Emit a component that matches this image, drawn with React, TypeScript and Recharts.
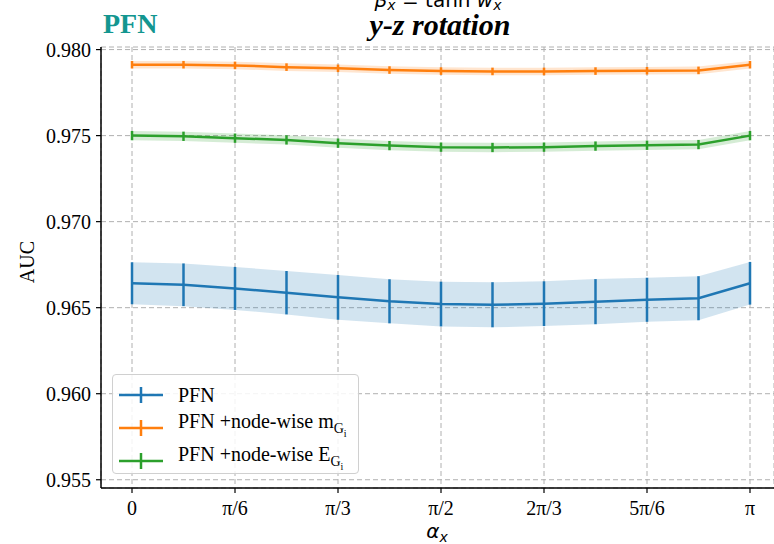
import React from 'react';
import {
  ComposedChart, Line, Area, XAxis, YAxis, CartesianGrid, ErrorBar, Legend,
} from 'recharts';

// alpha_x in units of pi/12
const alphaSteps = [0, 1, 2, 3, 4, 5, 6, 7, 8, 9, 10, 11, 12];
const xTickSteps = [0, 2, 4, 6, 8, 10, 12];
const xTickLabels = ['0', 'π/6', 'π/3', 'π/2', '2π/3', '5π/6', 'π'];
const yTicks = [0.955, 0.96, 0.965, 0.97, 0.975, 0.98];

const pfnMean = [0.96642, 0.96633, 0.96612, 0.96587, 0.9656, 0.96537, 0.96521, 0.96517, 0.96523, 0.96535, 0.96546, 0.96555, 0.96642];
const pfnErr = [0.00122, 0.00124, 0.00125, 0.00126, 0.0013, 0.00128, 0.0013, 0.00131, 0.0013, 0.00131, 0.00128, 0.00128, 0.00124];
const mMean = [0.97912, 0.97912, 0.97908, 0.97898, 0.97891, 0.97881, 0.97875, 0.97873, 0.97873, 0.97875, 0.97877, 0.97879, 0.97912];
const mErr = [0.00022, 0.00022, 0.00022, 0.00022, 0.00022, 0.00022, 0.00022, 0.00022, 0.00022, 0.00022, 0.00022, 0.00022, 0.00022];
const eMean = [0.975, 0.97496, 0.97485, 0.97475, 0.97456, 0.97442, 0.97433, 0.97431, 0.97433, 0.97439, 0.97444, 0.97448, 0.975];
const eErr = [0.00027, 0.00027, 0.00027, 0.00027, 0.00027, 0.00027, 0.00027, 0.00027, 0.00027, 0.00027, 0.00027, 0.00027, 0.00027];

const BLUE = '#1f77b4';
const ORANGE = '#ff7f0e';
const GREEN = '#2ca02c';
const SERIF = '"Liberation Serif", "Times New Roman", serif';
const MATH = '"DejaVu Sans", sans-serif';

const data = alphaSteps.map((a, i) => ({
  a,
  pfn: pfnMean[i],
  pfnErr: pfnErr[i],
  pfnBand: [pfnMean[i] - pfnErr[i], pfnMean[i] + pfnErr[i]],
  m: mMean[i],
  mErr: mErr[i],
  mBand: [mMean[i] - mErr[i], mMean[i] + mErr[i]],
  e: eMean[i],
  eErr: eErr[i],
  eBand: [eMean[i] - eErr[i], eMean[i] + eErr[i]],
}));

const legendItems = [
  { color: BLUE, label: <>PFN</> },
  { color: ORANGE, label: <>PFN +node-wise m<sub style={{ fontSize: 14 }}>G<sub style={{ fontSize: 10 }}>i</sub></sub></> },
  { color: GREEN, label: <>PFN +node-wise E<sub style={{ fontSize: 14 }}>G<sub style={{ fontSize: 10 }}>i</sub></sub></> },
];

const renderLegend = () => (
  <div style={{
    width: 247, height: 100, boxSizing: 'border-box', border: '1px solid #d0d0d0', borderRadius: 4,
    background: 'rgba(255,255,255,0.85)', padding: '3px 0 0 6px', fontFamily: SERIF, fontSize: 20, color: '#000',
  }}>
    {legendItems.map((it, i) => (
      <div key={i} style={{ display: 'flex', alignItems: 'center', height: 33, lineHeight: '20px' }}>
        <svg width={44} height={18} style={{ marginRight: 15, flexShrink: 0 }}>
          <line x1={0} y1={9} x2={44} y2={9} stroke={it.color} strokeWidth={2.5} />
          <line x1={22} y1={1} x2={22} y2={17} stroke={it.color} strokeWidth={2.5} />
        </svg>
        <span>{it.label}</span>
      </div>
    ))}
  </div>
);

const xTickFmt = (v: number) => {
  const idx = xTickSteps.indexOf(v);
  return idx >= 0 ? xTickLabels[idx] : '';
};

export default function App() {
  return (
    <div style={{ position: 'absolute', left: 0, top: 0, width: 774, height: 544, background: '#fff' }}>
      <ComposedChart width={774} height={544} data={data} margin={{ top: 47, right: 0, bottom: 0, left: 0 }}>
        <CartesianGrid stroke="#b0b0b0" strokeDasharray="5 3" strokeWidth={1} />
        <XAxis
          dataKey="a" type="number" domain={[-0.602, 12.466]} ticks={xTickSteps} allowDataOverflow
          tickFormatter={xTickFmt} height={56} interval={0}
          axisLine={{ stroke: '#000', strokeWidth: 1.5 }} tickLine={{ stroke: '#000', strokeWidth: 1.2 }} tickSize={5}
          tick={{ fontFamily: SERIF, fontSize: 20, fill: '#000', dy: 6 }}
        />
        <XAxis
          xAxisId="top" orientation="top" dataKey="a" type="number" domain={[-0.602, 12.466]} height={0}
          tick={false} tickLine={false} axisLine={{ stroke: '#000', strokeWidth: 1.5 }}
        />
        <YAxis
          type="number" domain={[0.95452, 0.98015]} ticks={yTicks} allowDataOverflow width={101} interval={0}
          tickFormatter={(v: number) => v.toFixed(3)}
          axisLine={{ stroke: '#000', strokeWidth: 1.5 }} tickLine={{ stroke: '#000', strokeWidth: 1.2 }} tickSize={5}
          tick={{ fontFamily: SERIF, fontSize: 20, fill: '#000', dx: -3 }}
        />
        <Area dataKey="pfnBand" type="linear" stroke="none" fill={BLUE} fillOpacity={0.2} isAnimationActive={false} legendType="none" />
        <Area dataKey="mBand" type="linear" stroke="none" fill={ORANGE} fillOpacity={0.2} isAnimationActive={false} legendType="none" />
        <Area dataKey="eBand" type="linear" stroke="none" fill={GREEN} fillOpacity={0.2} isAnimationActive={false} legendType="none" />
        <Line dataKey="pfn" type="linear" stroke={BLUE} strokeWidth={2.5} dot={false} isAnimationActive={false}>
          <ErrorBar dataKey="pfnErr" direction="y" width={0} stroke={BLUE} strokeWidth={2.5} isAnimationActive={false} />
        </Line>
        <Line dataKey="m" type="linear" stroke={ORANGE} strokeWidth={2.5} dot={false} isAnimationActive={false}>
          <ErrorBar dataKey="mErr" direction="y" width={0} stroke={ORANGE} strokeWidth={2.5} isAnimationActive={false} />
        </Line>
        <Line dataKey="e" type="linear" stroke={GREEN} strokeWidth={2.5} dot={false} isAnimationActive={false}>
          <ErrorBar dataKey="eErr" direction="y" width={0} stroke={GREEN} strokeWidth={2.5} isAnimationActive={false} />
        </Line>
        <Legend
          layout="vertical" align="center" verticalAlign="middle" content={renderLegend}
          wrapperStyle={{ position: 'absolute', left: 112, top: 374, width: 247, height: 100 }}
        />
      </ComposedChart>
      <svg width={774} height={544} style={{ position: 'absolute', left: 0, top: 0, pointerEvents: 'none' }}>
        <text x={438} y={7} textAnchor="middle" fontFamily={MATH} fontSize={20} fill="#000">
          <tspan fontStyle="italic">β</tspan>
          <tspan fontStyle="italic" fontSize={14} dy={3}>x</tspan>
          <tspan dy={-3}> = tanh </tspan>
          <tspan fontStyle="italic">w</tspan>
          <tspan fontStyle="italic" fontSize={14} dy={3}>x</tspan>
        </text>
        <text x={440} y={35} textAnchor="middle" fontFamily={SERIF} fontSize={30} fontWeight="bold" fontStyle="italic" fill="#000">
          y-z rotation
        </text>
        <text x={103} y={33} fontFamily={SERIF} fontSize={28} fontWeight="bold" fill="#139690">
          PFN
        </text>
        <text x={27} y={262} transform="rotate(-90 27 262)" textAnchor="middle" dominantBaseline="central" fontFamily={SERIF} fontSize={20} fill="#000">
          AUC
        </text>
        <text x={437} y={538} textAnchor="middle" fontFamily={MATH} fontSize={20} fill="#000">
          <tspan fontStyle="italic">α</tspan>
          <tspan fontStyle="italic" fontSize={14} dy={4}>x</tspan>
        </text>
      </svg>
    </div>
  );
}
